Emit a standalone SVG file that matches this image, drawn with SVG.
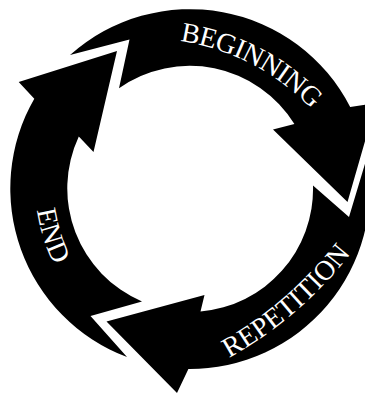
<svg xmlns="http://www.w3.org/2000/svg" xmlns:xlink="http://www.w3.org/1999/xlink" width="365" height="396" viewBox="0 0 365 396">
  <style>
    .arrow { fill: #000; stroke: none; }
    .lbl { font-family: "Liberation Serif", "Times New Roman", serif; font-size: 28px; fill: #fff; }
  </style>
  <defs>
    <path id="p-beg" d="M 180,41 A 230 230 0 0 1 328,128"/>
    <path id="p-rep" d="M 229,358 A 400 400 0 0 0 362,238"/>
    <path id="p-end" d="M 37,210 A 200 200 0 0 0 68,290"/>
  </defs>
  <rect width="365" height="396" fill="#fff"/>
  <g id="connectors"></g>
  <g id="beginning">
    <path class="arrow" d="M 70,55 A 180 180 0 0 1 350.2,107 L 376,103 L 347.5,202 L 273,129.5 L 294.4,124 A 123 123 0 0 0 119,88.3 L 129.5,39.5 Z"/>
    <text class="lbl" letter-spacing="-0.6"><textPath xlink:href="#p-beg" href="#p-beg">BEGINNING</textPath></text>
  </g>
  <g id="repetition">
    <path class="arrow" d="M 367,157 A 180 180 0 0 1 188.4,369 L 177,393 L 106.5,321.5 L 204.5,295 L 200.5,311.5 A 123 123 0 0 0 313,185.5 L 349,217 Z"/>
    <text class="lbl"><textPath xlink:href="#p-rep" href="#p-rep">REPETITION</textPath></text>
  </g>
  <g id="end">
    <path class="arrow" d="M 127,357 A 180 180 0 0 1 34.3,98.7 L 18.7,82 L 117,51 L 93.5,152 L 78.8,136.4 A 123 123 0 0 0 142,301.5 L 90.5,316 Z"/>
    <text class="lbl"><textPath xlink:href="#p-end" href="#p-end">END</textPath></text>
  </g>
</svg>
